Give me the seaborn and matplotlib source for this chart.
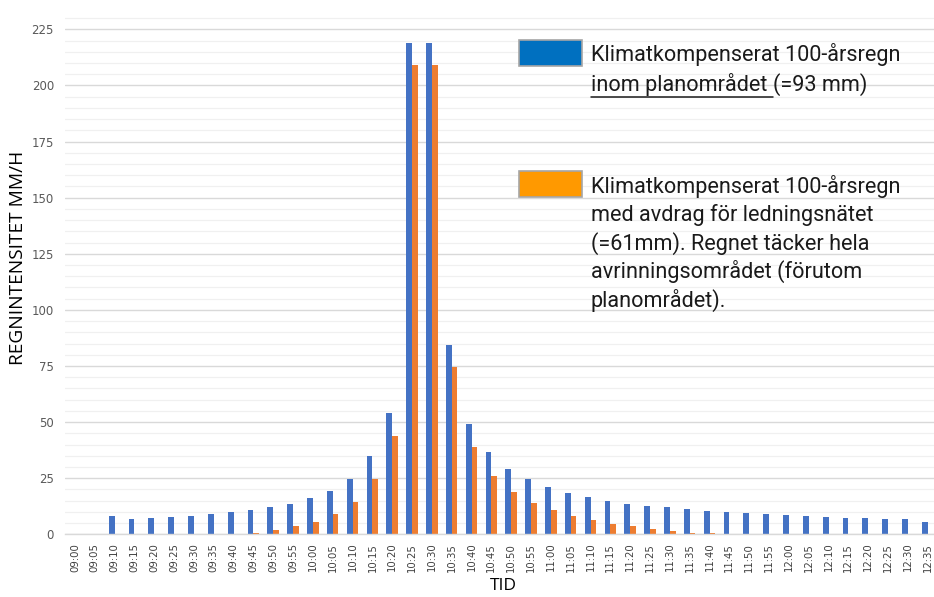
import matplotlib
matplotlib.use("Agg")
import matplotlib.pyplot as plt
from matplotlib.patches import Rectangle
from matplotlib.lines import Line2D
from matplotlib.ticker import MultipleLocator
import seaborn as sns
import pandas as pd

# ---- data ----
tider = ["09:00", "09:05", "09:10", "09:15", "09:20", "09:25", "09:30", "09:35",
         "09:40", "09:45", "09:50", "09:55", "10:00", "10:05", "10:10", "10:15",
         "10:20", "10:25", "10:30", "10:35", "10:40", "10:45", "10:50", "10:55",
         "11:00", "11:05", "11:10", "11:15", "11:20", "11:25", "11:30", "11:35",
         "11:40", "11:45", "11:50", "11:55", "12:00", "12:05", "12:10", "12:15",
         "12:20", "12:25", "12:30", "12:35"]
planomrade = [0, 0, 8.2, 6.8, 7.3, 7.7, 8.2, 8.9,
              9.8, 10.7, 12.0, 13.5, 16.0, 19.4, 24.8, 34.8,
              54.1, 219, 219, 84.5, 49.0, 36.5, 29.0, 24.5,
              21.1, 18.5, 16.5, 14.8, 13.5, 12.8, 12.0, 11.1,
              10.2, 9.8, 9.4, 8.9, 8.6, 8.2, 7.7, 7.3,
              7.3, 6.8, 6.8, 5.5]
avrinning = [0, 0, 0, 0, 0, 0, 0, 0,
             0, 0.7, 1.8, 3.7, 5.6, 9.0, 14.4, 24.5,
             43.9, 209, 209, 74.5, 39.0, 26.1, 19.0, 13.9,
             10.7, 8.2, 6.4, 4.7, 3.6, 2.2, 1.3, 0.6,
             0.5, 0, 0, 0, 0, 0, 0, 0,
             0, 0, 0, 0]
serier = ["Klimatkompenserat 100-årsregn inom planområdet (=93 mm)",
          "Klimatkompenserat 100-årsregn med avdrag för ledningsnätet (=61mm)"]
y_ticks = [0, 25, 50, 75, 100, 125, 150, 175, 200, 225]

df = pd.DataFrame({
    "TID": tider * 2,
    "värde": planomrade + avrinning,
    "serie": [serier[0]] * len(tider) + [serier[1]] * len(tider),
})

bar_colors = ["#4472C4", "#ED7D31"]
legend_colors = ["#0070C0", "#FF9900"]

sns.set_theme(style="white")
plt.rcParams["font.family"] = ["DejaVu Sans"]

fig = plt.figure(figsize=(9.34, 5.97), dpi=100)
W, H = 934, 597
ax_left, ax_bottom_px, ax_top_px = 65, 534.3, 9.2
ymax = 234
n_vis = (W - 75) / 19.83  # categories visible to right edge
ax_w = W - ax_left
ax_h = ax_bottom_px - ax_top_px
ax = fig.add_axes([ax_left / W, 1 - ax_bottom_px / H, ax_w / W, ax_h / H])

sns.barplot(data=df, x="TID", y="värde", hue="serie", palette=bar_colors,
            width=0.58, gap=0, legend=False, ax=ax, saturation=1, linewidth=0)

ax.set_ylim(0, ymax)
ax.set_xlim(-0.5, n_vis)
ax.set_yticks(y_ticks)
ax.yaxis.set_minor_locator(MultipleLocator(5))
ax.grid(axis="y", which="major", color="#d9d9d9", linewidth=1.0, zorder=0)
ax.grid(axis="y", which="minor", color="#f0f0f0", linewidth=0.9, zorder=0)
ax.set_axisbelow(True)
for s in ["top", "right", "left"]:
    ax.spines[s].set_visible(False)
ax.spines["bottom"].set_color("#d9d9d9")
ax.spines["bottom"].set_linewidth(1.0)

ax.tick_params(axis="y", which="both", length=0, labelsize=8.5, labelcolor="#595959", pad=8)
ax.tick_params(axis="x", length=0, labelsize=7.3, labelcolor="#404040", pad=6)
plt.setp(ax.get_xticklabels(), rotation=90)

lab_font = ["Open Sans", "DejaVu Sans"]
ax.set_ylabel("REGNINTENSITET MM/H", fontsize=13.8, color="#000000", family=lab_font)
ax.yaxis.set_label_coords((18 - ax_left) / ax_w, (ax_bottom_px - 258) / ax_h)
ax.set_xlabel("TID", fontsize=12.5, color="#000000", family=lab_font)
ax.xaxis.set_label_coords((503 - ax_left) / ax_w, (ax_bottom_px - 586) / ax_h)
ax.xaxis.label.set_va("center")
ax.yaxis.label.set_va("center")

# ---- custom legend ----
def px(x, y):
    return x / W, 1 - y / H

for (x0, y0, y1), c in zip([(519, 40, 66), (519, 171, 197)], legend_colors):
    fx, fy = px(x0, y1)
    fig.add_artist(Rectangle((fx, fy), (582 - x0) / W, (y1 - y0) / H,
                             transform=fig.transFigure, facecolor=c,
                             edgecolor="#a6a6a6", linewidth=1.2))

lfont = dict(fontsize=15.6, family=["Roboto", "DejaVu Sans"], color="#1a1a1a",
             va="center", ha="left")
tx = 591
fig.text(*px(tx, 54), "Klimatkompenserat 100-årsregn", **lfont)
t_under = fig.text(*px(tx, 85), "inom planområdet ", **lfont)
fig.canvas.draw()
r = fig.canvas.get_renderer()
bb = t_under.get_window_extent(renderer=r)
fig.text(bb.x1 / W, 1 - 85 / H, "(=93 mm)", **lfont)
uy = 97
fig.add_artist(Line2D([bb.x0 / W, bb.x1 / W], [1 - uy / H, 1 - uy / H],
                      transform=fig.transFigure, color="#1a1a1a", linewidth=1.1))

lines2 = ["Klimatkompenserat 100-årsregn", "med avdrag för ledningsnätet",
          "(=61mm). Regnet täcker hela", "avrinningsområdet (förutom",
          "planområdet)."]
for i, s in enumerate(lines2):
    fig.text(*px(tx, 186 + i * 28.6), s, **lfont)

fig.savefig("out.png", dpi=100)
